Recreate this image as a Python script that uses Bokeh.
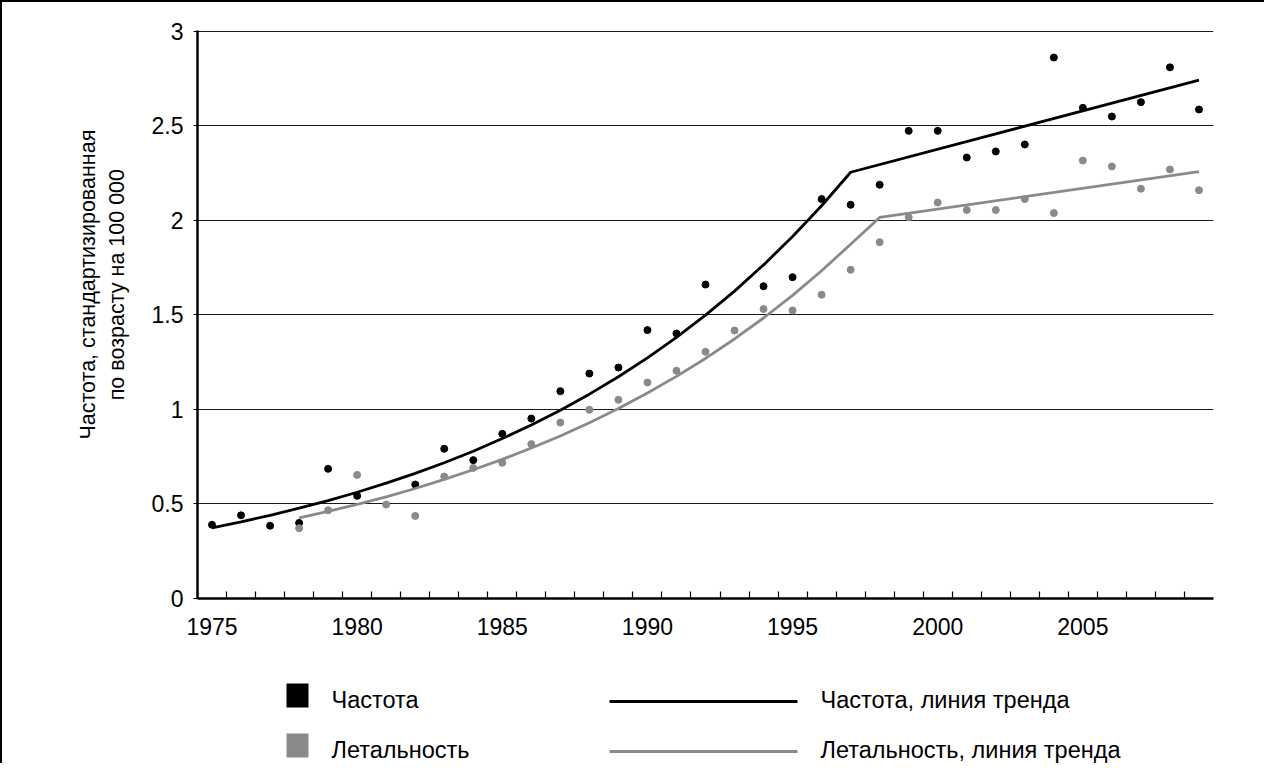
from bokeh.plotting import figure
from bokeh.models import Range1d, FixedTicker
from bokeh.layouts import column
from bokeh.core.properties import value
from bokeh.embed import file_html
from bokeh.resources import INLINE

NAN = float("nan")

# ---- data ----
years = list(range(1975, 2010))
incidence = [0.39, 0.44, 0.385, 0.40, 0.686, 0.543, NAN, 0.603, 0.792, 0.732,
             0.871, 0.952, 1.097, 1.19, 1.222, 1.42, 1.402, 1.661, NAN, 1.652,
             1.70, 2.113, 2.083, 2.189, 2.474, 2.474, 2.333, 2.365, 2.402, 2.862,
             2.596, 2.55, 2.626, 2.81, 2.587]
mortality = [NAN, NAN, NAN, 0.372, 0.467, 0.654, 0.497, 0.437, 0.645, 0.691,
             0.718, 0.817, 0.931, 0.998, 1.051, 1.143, 1.205, 1.305, 1.418, 1.531,
             1.524, 1.607, 1.739, 1.885, 2.017, 2.095, 2.055, 2.055, 2.113, 2.039,
             2.317, 2.286, 2.168, 2.27, 2.16]

inc_trend_years = list(range(1975, 1998)) + [2009]
inc_trend = [0.374, 0.406, 0.440, 0.478, 0.518, 0.562, 0.610, 0.662, 0.718, 0.779,
             0.846, 0.918, 0.996, 1.081, 1.173, 1.273, 1.381, 1.499, 1.626, 1.765,
             1.915, 2.078, 2.255, 2.742]
mort_trend_years = list(range(1978, 1999)) + [2009]
mort_trend = [0.427, 0.461, 0.498, 0.538, 0.582, 0.630, 0.681, 0.736, 0.796, 0.860,
              0.930, 1.005, 1.087, 1.175, 1.270, 1.373, 1.484, 1.604, 1.734, 1.874,
              2.016, 2.258]

x_tick_years = [1975, 1980, 1985, 1990, 1995, 2000, 2005]
y_ticks = [0, 0.5, 1, 1.5, 2, 2.5, 3]
y_tick_labels = ["0", "0.5", "1", "1.5", "2", "2.5", "3"]
y_title_lines = ["Частота, стандартизированная", "по возрасту на 100 000"]
legend_labels = ["Частота", "Летальность", "Частота, линия тренда", "Летальность, линия тренда"]

FONT = "Liberation Sans"
BLACK = "#000000"
GREY = "#8a8a8a"

W = 1262
BL, BR = 195, 51

# ---- main chart ----
p = figure(width=W, height=652, x_range=Range1d(1974.5, 2009.5), y_range=Range1d(0, 3.005),
           output_backend="svg", toolbar_location=None,
           min_border_left=BL, min_border_right=BR, min_border_top=28, min_border_bottom=56)
p.outline_line_color = None

p.xgrid.visible = False
p.ygrid.grid_line_color = "#1a1a1a"
p.ygrid.grid_line_width = 1.2

xa = p.xaxis[0]
xa.ticker = FixedTicker(ticks=x_tick_years, minor_ticks=[y + 0.5 for y in range(1975, 2009)])
xa.major_tick_in = 0
xa.major_tick_out = 0
xa.minor_tick_in = 7
xa.minor_tick_out = 0
xa.minor_tick_line_color = BLACK
xa.minor_tick_line_width = 1.2
xa.axis_line_color = BLACK
xa.axis_line_width = 2.5
xa.major_label_text_font = FONT
xa.major_label_text_font_size = "23px"
xa.major_label_text_color = BLACK
xa.major_label_standoff = 19

ya = p.yaxis[0]
ya.ticker = FixedTicker(ticks=y_ticks)
ya.major_label_overrides = {t: s for t, s in zip(y_ticks, y_tick_labels)}
ya.major_tick_in = 0
ya.major_tick_out = 4
ya.major_tick_line_color = BLACK
ya.minor_tick_in = 0
ya.minor_tick_out = 0
ya.axis_line_color = BLACK
ya.axis_line_width = 2.5
ya.major_label_text_font = FONT
ya.major_label_text_font_size = "23px"
ya.major_label_text_color = BLACK
ya.major_label_standoff = 10
# leading no-break spaces move the centred title up along the axis, as in the reference
ya.axis_label = "\n".join("\u00a0" * 10 + s for s in y_title_lines)
ya.axis_label_text_font = FONT
ya.axis_label_text_font_size = "21.5px"
ya.axis_label_text_font_style = "normal"
ya.axis_label_text_color = BLACK
ya.axis_label_standoff = 20

p.scatter(years, incidence, size=7, color=BLACK)
p.scatter(years, mortality, size=7, color=GREY)
p.line(inc_trend_years, inc_trend, line_color=BLACK, line_width=2.8)
p.line(mort_trend_years, mort_trend, line_color=GREY, line_width=2.8)

# ---- legend panel (frame aligned with chart frame; coordinates in canvas px) ----
LH = 109
q = figure(width=W, height=LH, x_range=Range1d(BL, W - BR), y_range=Range1d(LH, 0),
           output_backend="svg", toolbar_location=None,
           x_axis_location=None, y_axis_location=None,
           min_border_left=BL, min_border_right=BR, min_border_top=0, min_border_bottom=0)
q.outline_line_color = None
q.xgrid.visible = False
q.ygrid.visible = False

q.quad(left=[284, 284], right=[306, 306], top=[29, 79], bottom=[53, 103],
       fill_color=[BLACK, GREY], line_color=None)
q.text(x=[329, 329], y=[45, 95], text=legend_labels[:2],
       text_font=value(FONT), text_font_size="23.5px", text_color=BLACK,
       text_align="left", text_baseline="middle")
q.line([607, 795], [47, 47], line_color=BLACK, line_width=3)
q.line([607, 795], [97, 97], line_color=GREY, line_width=3)
q.text(x=[818, 818], y=[45, 95], text=legend_labels[2:],
       text_font=value(FONT), text_font_size="23.5px", text_color=BLACK,
       text_align="left", text_baseline="middle")

layout = column(p, q, spacing=0,
                styles={"border-top": "2px solid black", "border-left": "2px solid black"})

open("out.html", "w").write(file_html(layout, INLINE))
